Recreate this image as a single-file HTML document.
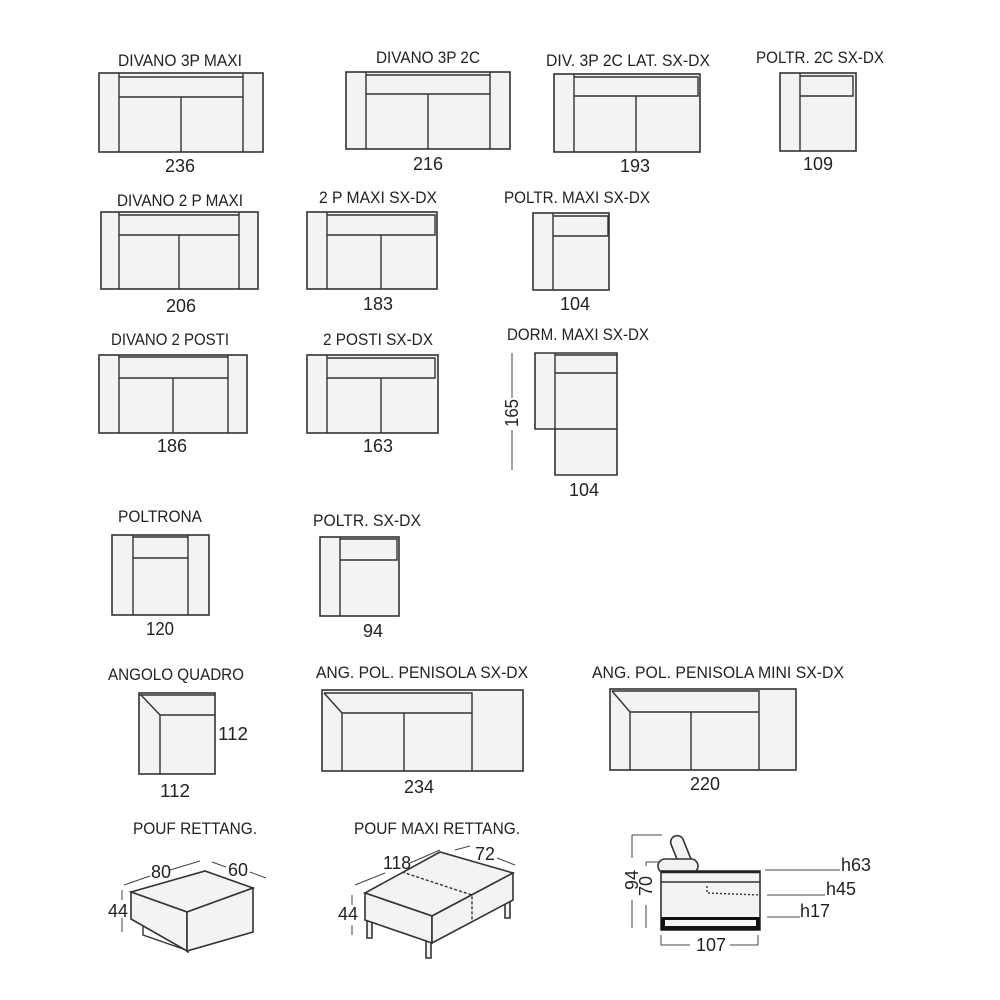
<!DOCTYPE html>
<html><head><meta charset="utf-8"><style>
html,body{margin:0;padding:0;background:#fff}
svg{display:block}
text{font-family:"Liberation Sans",sans-serif;fill:#222;font-size:18px}
.l{font-size:17px}
.b{fill:#f3f3f3;stroke:#333;stroke-width:1.6}
.n{fill:none;stroke:#333;stroke-width:1.4}
.t{fill:none;stroke:#444;stroke-width:1}
</style></head><body>
<svg width="1000" height="1000" viewBox="0 0 1000 1000">
<!-- Row 1 -->
<text class="l" x="180" y="66" text-anchor="middle" textLength="124" lengthAdjust="spacingAndGlyphs">DIVANO 3P MAXI</text>
<rect class="b" x="99" y="73" width="164" height="79"/>
<path class="n" d="M119 73V152M243 73V152M119 77H243V97H119M181 97V152"/>
<text x="180" y="172" text-anchor="middle" textLength="30" lengthAdjust="spacingAndGlyphs">236</text>

<text class="l" x="428" y="63" text-anchor="middle" textLength="104" lengthAdjust="spacingAndGlyphs">DIVANO 3P 2C</text>
<rect class="b" x="346" y="72" width="164" height="77"/>
<path class="n" d="M366 72V149M490 72V149M366 75H490V94H366M428 94V149"/>
<text x="428" y="170" text-anchor="middle" textLength="30" lengthAdjust="spacingAndGlyphs">216</text>

<text class="l" x="628" y="66" text-anchor="middle" textLength="164" lengthAdjust="spacingAndGlyphs">DIV. 3P 2C LAT. SX-DX</text>
<rect class="b" x="554" y="74" width="146" height="78"/>
<path class="n" d="M574 74V152M574 77H698V96H574M636 96V152"/>
<text x="635" y="172" text-anchor="middle" textLength="30" lengthAdjust="spacingAndGlyphs">193</text>

<text class="l" x="820" y="63" text-anchor="middle" textLength="128" lengthAdjust="spacingAndGlyphs">POLTR. 2C SX-DX</text>
<rect class="b" x="780" y="73" width="76" height="78"/>
<path class="n" d="M800 73V151M800 76H853V96H800"/>
<text x="818" y="170" text-anchor="middle" textLength="30" lengthAdjust="spacingAndGlyphs">109</text>

<!-- Row 2 -->
<text class="l" x="180" y="206" text-anchor="middle" textLength="126" lengthAdjust="spacingAndGlyphs">DIVANO 2 P MAXI</text>
<rect class="b" x="101" y="212" width="157" height="77"/>
<path class="n" d="M119 212V289M239 212V289M119 215H239V235H119M179 235V289"/>
<text x="181" y="312" text-anchor="middle" textLength="30" lengthAdjust="spacingAndGlyphs">206</text>

<text class="l" x="378" y="203" text-anchor="middle" textLength="118" lengthAdjust="spacingAndGlyphs">2 P MAXI SX-DX</text>
<rect class="b" x="307" y="212" width="130" height="77"/>
<path class="n" d="M327 212V289M327 215H435V235H327M381 235V289"/>
<text x="378" y="310" text-anchor="middle" textLength="30" lengthAdjust="spacingAndGlyphs">183</text>

<text class="l" x="577" y="203" text-anchor="middle" textLength="146" lengthAdjust="spacingAndGlyphs">POLTR. MAXI SX-DX</text>
<rect class="b" x="533" y="213" width="76" height="77"/>
<path class="n" d="M553 213V290M553 216H608V236H553"/>
<text x="575" y="310" text-anchor="middle" textLength="30" lengthAdjust="spacingAndGlyphs">104</text>

<!-- Row 3 -->
<text class="l" x="170" y="345" text-anchor="middle" textLength="118" lengthAdjust="spacingAndGlyphs">DIVANO 2 POSTI</text>
<rect class="b" x="99" y="355" width="148" height="78"/>
<path class="n" d="M119 355V433M228 355V433M119 357H228V378H119M173 378V433"/>
<text x="172" y="452" text-anchor="middle" textLength="30" lengthAdjust="spacingAndGlyphs">186</text>

<text class="l" x="378" y="345" text-anchor="middle" textLength="110" lengthAdjust="spacingAndGlyphs">2 POSTI SX-DX</text>
<rect class="b" x="307" y="355" width="131" height="78"/>
<path class="n" d="M327 355V433M327 358H435V378H327M381 378V433"/>
<text x="378" y="452" text-anchor="middle" textLength="30" lengthAdjust="spacingAndGlyphs">163</text>

<text class="l" x="578" y="340" text-anchor="middle" textLength="142" lengthAdjust="spacingAndGlyphs">DORM. MAXI SX-DX</text>
<path class="b" d="M535 353H617V475H555V429H535Z"/>
<path class="n" d="M555 353V429H617M555 355H617M555 373H617"/>
<text x="584" y="496" text-anchor="middle" textLength="30" lengthAdjust="spacingAndGlyphs">104</text>
<path class="t" d="M512 353V398M512 430V470"/>
<text x="0" y="0" transform="translate(518,413) rotate(-90)" text-anchor="middle" textLength="28" lengthAdjust="spacingAndGlyphs">165</text>

<!-- Row 4 -->
<text class="l" x="160" y="522" text-anchor="middle" textLength="84" lengthAdjust="spacingAndGlyphs">POLTRONA</text>
<rect class="b" x="112" y="535" width="97" height="80"/>
<path class="n" d="M133 535V615M188 535V615M133 537H188V558H133"/>
<text x="160" y="635" text-anchor="middle" textLength="28" lengthAdjust="spacingAndGlyphs">120</text>

<text class="l" x="367" y="526" text-anchor="middle" textLength="108" lengthAdjust="spacingAndGlyphs">POLTR. SX-DX</text>
<rect class="b" x="320" y="537" width="79" height="79"/>
<path class="n" d="M340 537V616M340 539H397V560H340"/>
<text x="373" y="637" text-anchor="middle" textLength="20" lengthAdjust="spacingAndGlyphs">94</text>

<!-- Row 5 -->
<text class="l" x="176" y="680" text-anchor="middle" textLength="136" lengthAdjust="spacingAndGlyphs">ANGOLO QUADRO</text>
<rect class="b" x="139" y="693" width="76" height="81"/>
<path class="n" d="M139 695H215M141 695L160 715H215M160 715V774"/>
<text x="233" y="740" text-anchor="middle" textLength="30" lengthAdjust="spacingAndGlyphs">112</text>
<text x="175" y="797" text-anchor="middle" textLength="30" lengthAdjust="spacingAndGlyphs">112</text>

<text class="l" x="422" y="678" text-anchor="middle" textLength="212" lengthAdjust="spacingAndGlyphs">ANG. POL. PENISOLA SX-DX</text>
<rect class="b" x="322" y="690" width="201" height="81"/>
<path class="n" d="M324 693H472V713H342L324 693M342 713V771M472 693V771M404 713V771"/>
<text x="419" y="793" text-anchor="middle" textLength="30" lengthAdjust="spacingAndGlyphs">234</text>

<text class="l" x="718" y="678" text-anchor="middle" textLength="252" lengthAdjust="spacingAndGlyphs">ANG. POL. PENISOLA MINI SX-DX</text>
<rect class="b" x="610" y="689" width="186" height="81"/>
<path class="n" d="M612 691H759V712H630L612 691M630 712V770M759 691V770M691 712V770"/>
<text x="705" y="790" text-anchor="middle" textLength="30" lengthAdjust="spacingAndGlyphs">220</text>

<!-- Poufs -->
<text class="l" x="195" y="834" text-anchor="middle" textLength="124" lengthAdjust="spacingAndGlyphs">POUF RETTANG.</text>
<path class="n" d="M143 922V935L186 950M188 953V935M230 921L247 914V921L230 928"/>
<path class="b" d="M131 892L205 871L253 888L187 912Z"/>
<path class="b" d="M131 892L187 912V951L131 919Z"/>
<path class="b" d="M187 912L253 888V932L187 951Z"/>
<path class="t" d="M124 885L150 876M170 870L200 861M212 862L226 867M250 872L266 878M122 890V900M122 918V932"/>
<text x="161" y="878" text-anchor="middle" textLength="20" lengthAdjust="spacingAndGlyphs">80</text>
<text x="238" y="876" text-anchor="middle" textLength="20" lengthAdjust="spacingAndGlyphs">60</text>
<text x="118" y="917" text-anchor="middle" textLength="20" lengthAdjust="spacingAndGlyphs">44</text>

<text class="l" x="437" y="834" text-anchor="middle" textLength="166" lengthAdjust="spacingAndGlyphs">POUF MAXI RETTANG.</text>
<path class="b" d="M367 918H372V938H367ZM426 940H431V958H426ZM505 898H510V918H505Z"/>
<path class="b" d="M365 893L440 852L513 873L432 916Z"/>
<path class="b" d="M365 893L432 916V943L365 920Z"/>
<path class="b" d="M432 916L513 873V900L432 943Z"/>
<path class="n" d="M402 872L472 895V922" stroke-dasharray="3 2"/>
<path class="t" d="M355 885L385 873M410 863L440 850M455 850L470 846M497 858L515 865M352 895V905M352 925V935"/>
<text x="397" y="869" text-anchor="middle" textLength="28" lengthAdjust="spacingAndGlyphs">118</text>
<text x="485" y="860" text-anchor="middle" textLength="20" lengthAdjust="spacingAndGlyphs">72</text>
<text x="348" y="920" text-anchor="middle" textLength="20" lengthAdjust="spacingAndGlyphs">44</text>

<!-- Side view -->
<rect class="b" x="675" y="835" width="13" height="36" rx="6.5" transform="rotate(-22 681 853)"/>
<rect class="b" x="658" y="859" width="40" height="14" rx="7"/>
<rect class="b" x="661" y="871" width="99" height="59"/>
<path class="n" d="M661 882H760" />
<path stroke="#222" stroke-width="2.5" d="M661 872H760"/>
<rect x="661" y="917" width="99" height="13" fill="#111"/>
<rect x="665" y="920" width="91" height="6" fill="#f3f3f3"/>
<path class="n" stroke-dasharray="2 2" d="M707 886V893L760 895"/>
<path class="t" d="M765 870H840M767 895H825M767 917H800M632 835V858M632 835H662M632 900V928M646 862V866M646 862H660M646 905V928M661 935V945H690M730 945H758V935"/>
<text x="841" y="871" textLength="30" lengthAdjust="spacingAndGlyphs">h63</text>
<text x="826" y="895" textLength="30" lengthAdjust="spacingAndGlyphs">h45</text>
<text x="800" y="917" textLength="30" lengthAdjust="spacingAndGlyphs">h17</text>
<text transform="translate(638,880) rotate(-90)" text-anchor="middle" textLength="20" lengthAdjust="spacingAndGlyphs">94</text>
<text transform="translate(652,886) rotate(-90)" text-anchor="middle" textLength="20" lengthAdjust="spacingAndGlyphs">70</text>
<text x="711" y="951" text-anchor="middle" textLength="30" lengthAdjust="spacingAndGlyphs">107</text>
</svg>
</body></html>
